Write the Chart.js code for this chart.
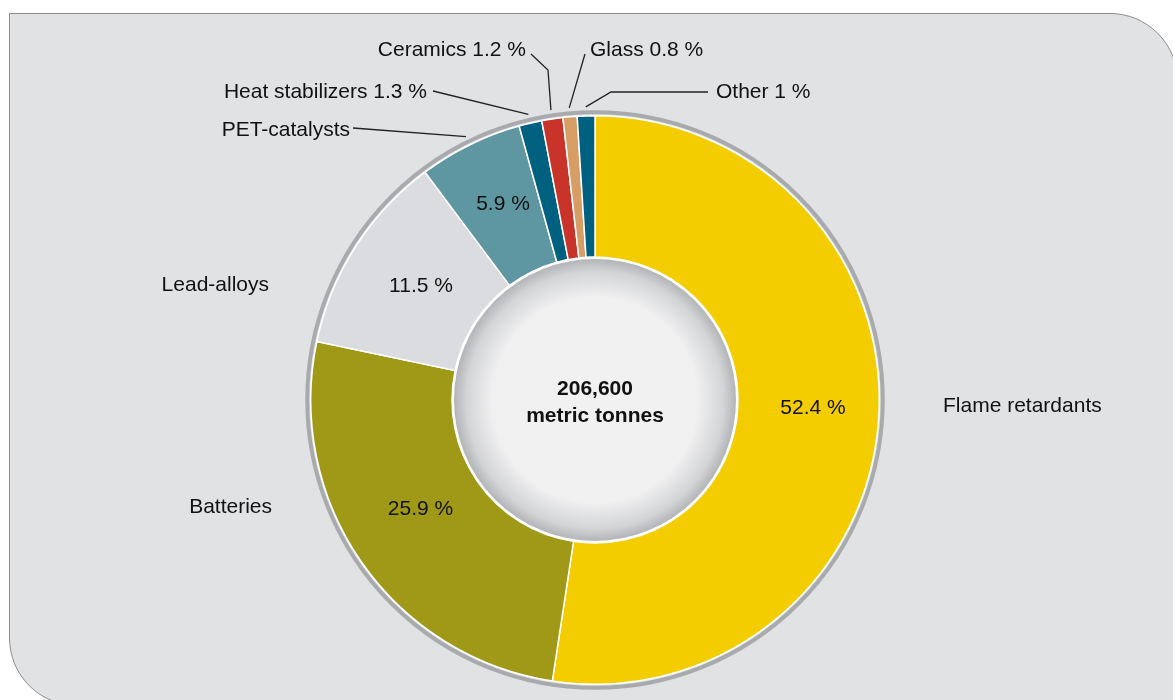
<!DOCTYPE html>
<html>
<head>
<meta charset="utf-8">
<script src="https://cdn.jsdelivr.net/npm/chart.js@4"></script>
<style>
  body { margin: 0; background: #fff; width: 1173px; height: 700px; overflow: hidden; position: relative; }
  #panel {
    position: absolute; left: 9px; top: 13px; width: 1169px; height: 693px;
    background: #e1e2e4; border: 1px solid #8d8d8d; box-sizing: border-box;
    border-radius: 0 68px 0 68px;
  }
  #chart { position: absolute; left: 0; top: 0; }
</style>
</head>
<body>
<div id="panel"></div>
<canvas id="chart" width="1173" height="700"></canvas>
<script>
const categories = ['Flame retardants', 'Batteries', 'Lead-alloys', 'PET-catalysts',
                    'Heat stabilizers', 'Ceramics', 'Glass', 'Other'];
const shares = [52.4, 25.9, 11.5, 5.9, 1.3, 1.2, 0.8, 1];
const colors = ['#f4cd00', '#9f9917', '#dbdcdf', '#5e97a1', '#00607f', '#c8342a', '#d69d64', '#00607f'];
// which slices carry their percentage inside the ring
const insideLabel = [true, true, true, true, false, false, false, false];
const centerText = ['206,600', 'metric tonnes'];

// outer label placement (text anchor + optional elbow of the leader line)
// nudge = shift of the inside percentage from the slice's centre point
const labelLayout = [
    { x: 943, y: 406, align: 'left', nudge: [5, -8] },
    { x: 272, y: 507, align: 'right', nudge: [1, -13] },
    { x: 269, y: 285, align: 'right', nudge: [6, 1] },
    { x: 350, y: 130, align: 'right', nudge: [2, -4], lineEnd: [353, 128] },
    { x: 427, y: 92, align: 'right', lineEnd: [433, 91] },
    { x: 526, y: 50, align: 'right', lineEnd: [531, 54], elbow: [548, 70] },
    { x: 590, y: 50, align: 'left', lineEnd: [585, 54] },
    { x: 716, y: 92, align: 'left', lineEnd: [708, 92], elbow: [611, 92] }
];

const FONT = '"Liberation Sans", Arial, sans-serif';

function fmt(v) { return v + ' %'; }

const decorPlugin = {
    id: 'decor',
    afterDatasetsDraw(chart) {
        const ctx = chart.ctx;
        const arcs = chart.getDatasetMeta(0).data;
        const a0 = arcs[0];
        const cx = a0.x, cy = a0.y;
        const rOut = a0.outerRadius, rIn = a0.innerRadius;

        ctx.save();
        // outer grey ring
        ctx.beginPath();
        ctx.arc(cx, cy, rOut + 3.5, 0, Math.PI * 2);
        ctx.strokeStyle = '#a9aaad';
        ctx.lineWidth = 4;
        ctx.stroke();

        // shaded centre disc
        const g = ctx.createRadialGradient(cx, cy, 0, cx, cy, rIn);
        g.addColorStop(0, '#f1f1f2');
        g.addColorStop(0.72, '#f0f0f1');
        g.addColorStop(0.9, '#d3d4d6');
        g.addColorStop(1, '#aeafb2');
        ctx.beginPath();
        ctx.arc(cx, cy, rIn - 1, 0, Math.PI * 2);
        ctx.fillStyle = g;
        ctx.fill();
        ctx.strokeStyle = '#ffffff';
        ctx.lineWidth = 2;
        ctx.stroke();

        // centre text
        ctx.fillStyle = '#111';
        ctx.font = 'bold 21px ' + FONT;
        ctx.textAlign = 'center';
        ctx.textBaseline = 'middle';
        ctx.fillText(centerText[0], cx, cy - 11);
        ctx.fillText(centerText[1], cx, cy + 16);

        ctx.font = '21px ' + FONT;
        arcs.forEach((arc, i) => {
            const mid = (arc.startAngle + arc.endAngle) / 2;
            const L = labelLayout[i];
            // percentage inside the slice
            if (insideLabel[i]) {
                const p = arc.getCenterPoint();
                const n = L.nudge || [0, 0];
                ctx.textAlign = 'center';
                ctx.fillText(fmt(shares[i]), p.x + n[0], p.y + n[1]);
            }
            const txt = insideLabel[i] ? categories[i] : categories[i] + ' ' + fmt(shares[i]);
            ctx.textAlign = L.align;
            ctx.fillText(txt, L.x, L.y);

            if (L.lineEnd) {
                const r = rOut + 9;
                const ax = cx + Math.cos(mid) * r, ay = cy + Math.sin(mid) * r;
                ctx.beginPath();
                ctx.moveTo(ax, ay);
                if (L.elbow) ctx.lineTo(L.elbow[0], L.elbow[1]);
                ctx.lineTo(L.lineEnd[0], L.lineEnd[1]);
                ctx.strokeStyle = '#222';
                ctx.lineWidth = 1.3;
                ctx.stroke();
            }
        });
        ctx.restore();
    }
};

new Chart(document.getElementById('chart'), {
    type: 'doughnut',
    data: {
        labels: categories,
        datasets: [{
            data: shares,
            backgroundColor: colors,
            borderColor: '#ffffff',
            borderWidth: 1.5
        }]
    },
    options: {
        responsive: false,
        animation: false,
        cutout: '50.3%',
        layout: { padding: { top: 115, bottom: 15, left: 310, right: 293 } },
        plugins: { legend: { display: false }, tooltip: { enabled: false } }
    },
    plugins: [decorPlugin]
});
</script>
</body>
</html>
